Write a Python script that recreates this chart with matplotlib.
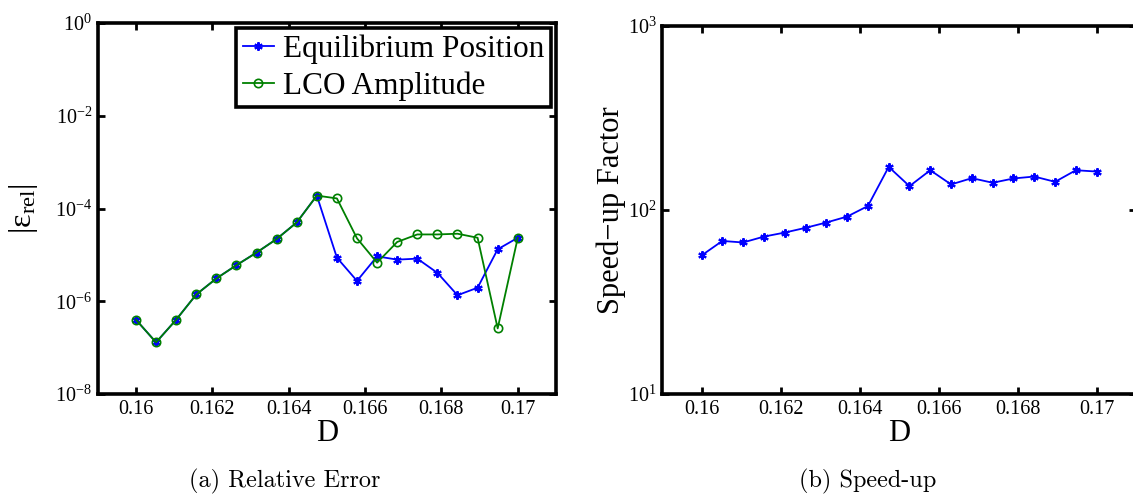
import numpy as np
import matplotlib
matplotlib.use("Agg")
import matplotlib.pyplot as plt
from matplotlib.ticker import FixedLocator, NullLocator, LogFormatterSciNotation

plt.rcParams['font.family'] = ['Liberation Serif', 'DejaVu Serif']
plt.rcParams['mathtext.fontset'] = 'custom'
plt.rcParams['mathtext.rm'] = 'Liberation Serif'
plt.rcParams['mathtext.it'] = 'Liberation Serif:italic'

# data
D = np.linspace(0.16, 0.17, 20)
err_equilibrium = [4.0e-7, 1.3e-7, 4.0e-7, 1.4e-6, 3.1e-6, 6.0e-6, 1.12e-5, 2.2e-5, 5.0e-5, 1.9e-4,
                   8.7e-6, 2.75e-6, 9.3e-6, 7.9e-6, 8.3e-6, 4.1e-6, 1.35e-6, 1.96e-6, 1.32e-5, 2.34e-5]
err_lco = [4.0e-7, 1.3e-7, 4.0e-7, 1.4e-6, 3.1e-6, 6.0e-6, 1.12e-5, 2.2e-5, 5.0e-5, 1.9e-4,
           1.65e-4, 2.27e-5, 6.8e-6, 1.9e-5, 2.76e-5, 2.76e-5, 2.86e-5, 2.34e-5, 2.6e-7, 2.34e-5]
speedup = [56.6, 67.9, 66.6, 71.7, 75.4, 80.0, 85.5, 92.1, 105.1, 171.5,
           134.8, 164.5, 137.7, 149.0, 140.6, 148.4, 152.0, 142.3, 164.5, 161.8]

xticks = [0.16, 0.162, 0.164, 0.166, 0.168, 0.17]
xticklabels = ['0.16', '0.162', '0.164', '0.166', '0.168', '0.17']

BLUE = (0, 0, 1)
GREEN = (0, 0.5, 0)
ASTER = (6, 2, 0)

fig = plt.figure(figsize=(11.33, 4.98), dpi=100)
ax1 = fig.add_axes([0.0863, 0.2088, 0.4044, 0.745])
ax2 = fig.add_axes([0.5843, 0.2088, 0.4185, 0.739])


def style(ax, yticks):
    ax.set_yscale('log')
    ax.set_xlim(0.159, 0.171)
    ax.set_xticks(xticks)
    ax.set_xticklabels(xticklabels)
    ax.yaxis.set_major_locator(FixedLocator(yticks))
    ax.yaxis.set_major_formatter(LogFormatterSciNotation())
    ax.yaxis.set_minor_locator(NullLocator())
    ax.set_ylim(yticks[0], yticks[-1])
    for s in ax.spines.values():
        s.set_linewidth(2.6)
    ax.tick_params(direction='in', top=True, right=True, length=5, width=2,
                   labelsize=14.5, pad=4)
    ax.set_xlabel('D', fontsize=22, labelpad=0)


ax1.plot(D, err_equilibrium, color=BLUE, lw=1.3, marker=ASTER, ms=6, mew=1.5,
         label='Equilibrium Position')
ax1.plot(D, err_lco, color=GREEN, lw=1.3, marker='o', ms=6, mew=1.2, mfc='none',
         label='LCO Amplitude')
style(ax1, [1e-8, 1e-6, 1e-4, 1e-2, 1e0])
ax1.set_ylabel('|ε$_{\\mathrm{rel}}$|', fontsize=23, labelpad=11)
leg = ax1.legend(loc='upper right', bbox_to_anchor=(0.99, 0.987), borderaxespad=0,
                 fontsize=22.5, handlelength=1.0, handletextpad=0.3, borderpad=0.22,
                 labelspacing=0.22, fancybox=False, framealpha=1)
leg.get_frame().set_edgecolor('black')
leg.get_frame().set_linewidth(2.6)

ax2.plot(D, speedup, color=BLUE, lw=1.3, marker=ASTER, ms=6, mew=1.5)
style(ax2, [1e1, 1e2, 1e3])
ax2.set_ylabel('Speed\u2212up Factor', fontsize=22, labelpad=1)

fig.text(0.2515, 0.034, '(a) Relative Error', family='cmr10', fontsize=17.5,
         ha='center', va='center')
fig.text(0.766, 0.034, '(b) Speed-up', family='cmr10', fontsize=17.5,
         ha='center', va='center')

fig.savefig('out.png', dpi=100)
